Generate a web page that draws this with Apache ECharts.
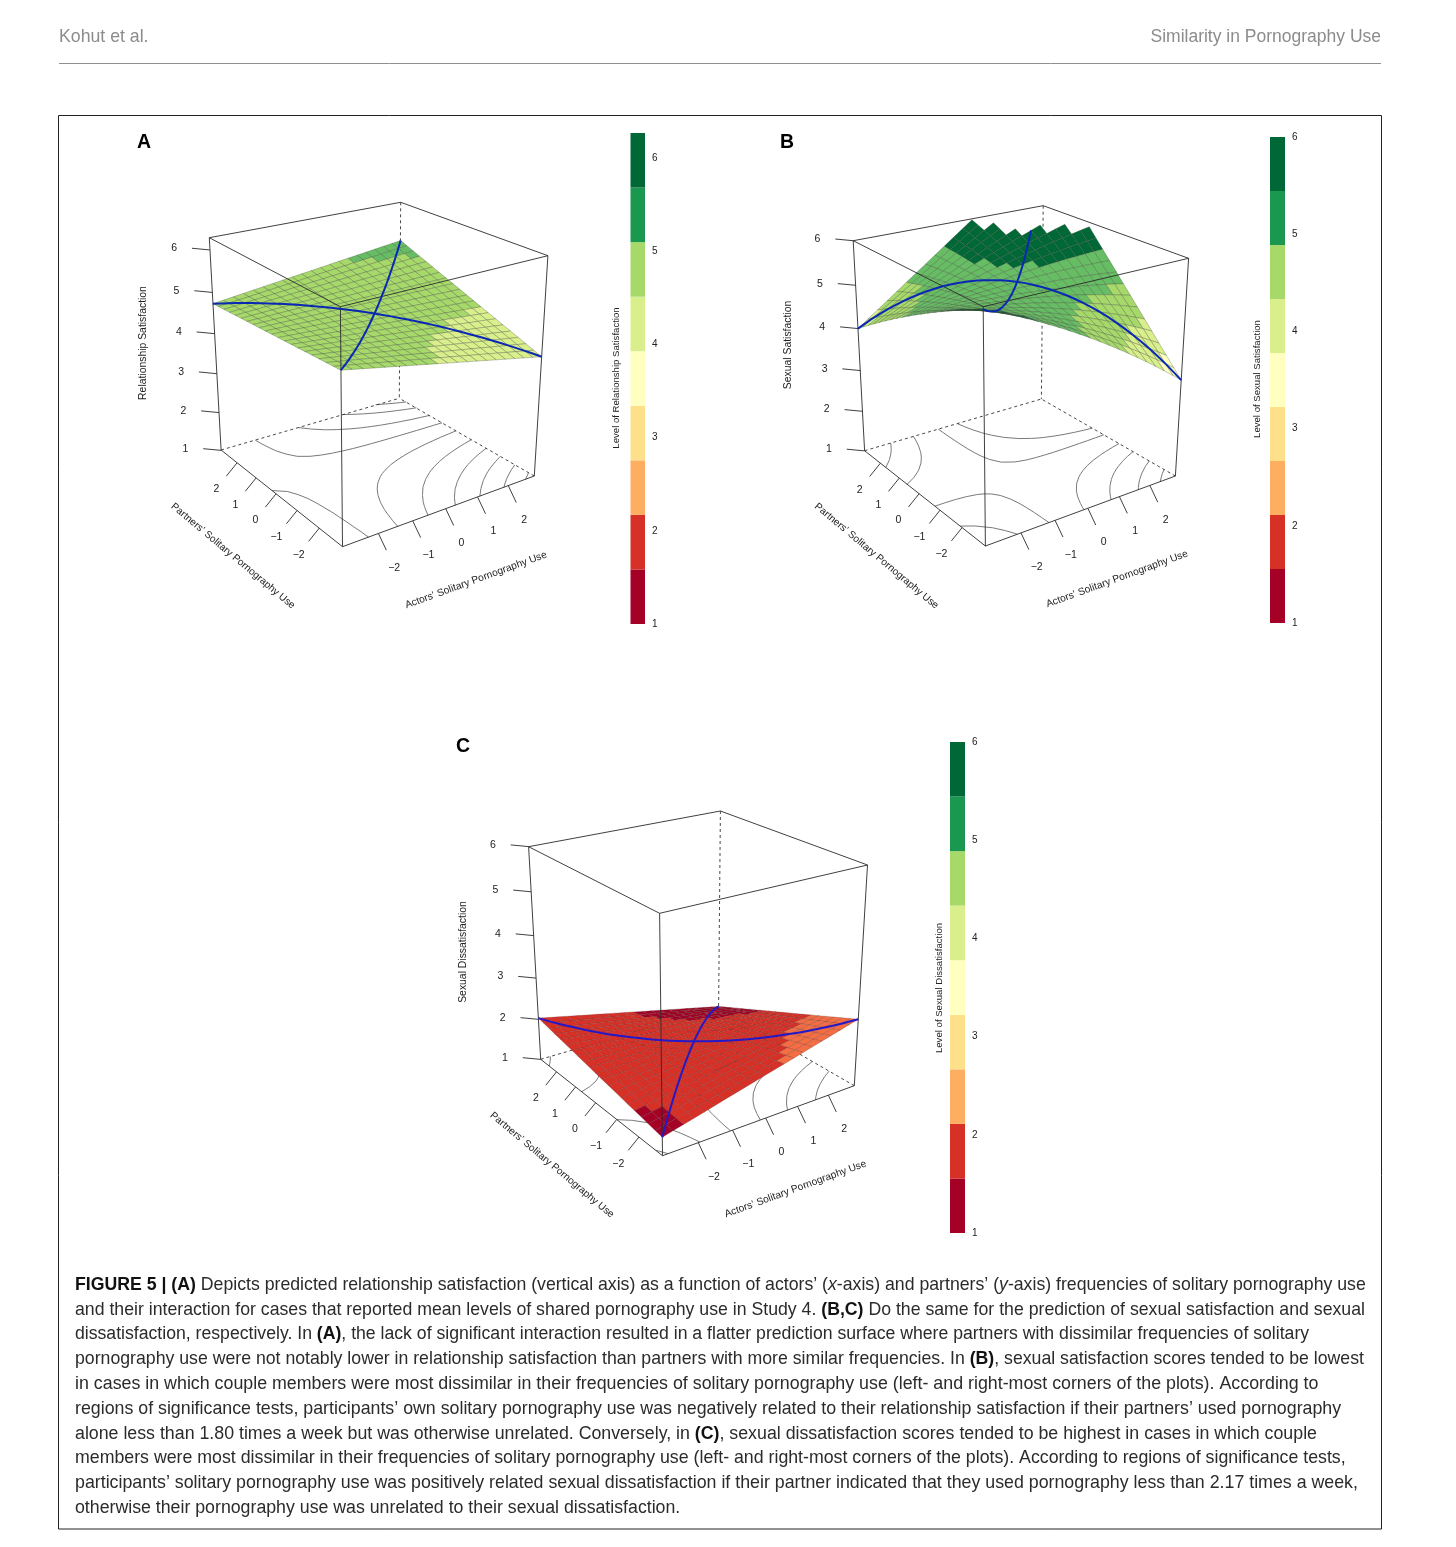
<!DOCTYPE html>
<html><head><meta charset="utf-8">
<style>html,body{margin:0;padding:0;background:#fff}#c{width:1456px;height:1547px}</style>
<script src="https://cdn.jsdelivr.net/npm/echarts@6/dist/echarts.min.js"></script>
</head><body><div id="c"></div>
<script>
// predicted outcome per grid node: rows = partners' use (low to high), columns = actors' use (low to high)
const surfaceA = [
[4.950,4.901,4.852,4.803,4.754,4.705,4.656,4.607,4.558,4.509,4.460,4.411,4.362,4.313,4.264,4.215,4.166,4.117,4.068,4.019,3.970],
[4.939,4.894,4.849,4.804,4.758,4.713,4.668,4.623,4.578,4.533,4.488,4.442,4.397,4.352,4.307,4.262,4.217,4.171,4.126,4.081,4.036],
[4.928,4.887,4.845,4.804,4.763,4.722,4.680,4.639,4.598,4.556,4.515,4.474,4.432,4.391,4.350,4.309,4.267,4.226,4.185,4.143,4.102],
[4.917,4.880,4.842,4.805,4.767,4.730,4.692,4.655,4.617,4.580,4.543,4.505,4.468,4.430,4.393,4.355,4.318,4.280,4.243,4.205,4.168],
[4.906,4.872,4.839,4.805,4.772,4.738,4.704,4.671,4.637,4.604,4.570,4.536,4.503,4.469,4.436,4.402,4.368,4.335,4.301,4.268,4.234],
[4.895,4.865,4.836,4.806,4.776,4.746,4.717,4.687,4.657,4.627,4.598,4.568,4.538,4.508,4.479,4.449,4.419,4.389,4.360,4.330,4.300],
[4.884,4.858,4.832,4.806,4.780,4.755,4.729,4.703,4.677,4.651,4.625,4.599,4.573,4.547,4.521,4.496,4.470,4.444,4.418,4.392,4.366],
[4.873,4.851,4.829,4.807,4.785,4.763,4.741,4.719,4.697,4.675,4.653,4.630,4.608,4.586,4.564,4.542,4.520,4.498,4.476,4.454,4.432],
[4.862,4.844,4.826,4.807,4.789,4.771,4.753,4.735,4.716,4.698,4.680,4.662,4.644,4.625,4.607,4.589,4.571,4.553,4.534,4.516,4.498],
[4.851,4.837,4.822,4.808,4.794,4.779,4.765,4.751,4.736,4.722,4.708,4.693,4.679,4.664,4.650,4.636,4.621,4.607,4.593,4.578,4.564],
[4.840,4.830,4.819,4.809,4.798,4.788,4.777,4.767,4.756,4.746,4.735,4.725,4.714,4.704,4.693,4.683,4.672,4.662,4.651,4.641,4.630],
[4.829,4.822,4.816,4.809,4.802,4.796,4.789,4.782,4.776,4.769,4.763,4.756,4.749,4.743,4.736,4.729,4.723,4.716,4.709,4.703,4.696],
[4.818,4.815,4.812,4.810,4.807,4.804,4.801,4.798,4.796,4.793,4.790,4.787,4.784,4.782,4.779,4.776,4.773,4.770,4.768,4.765,4.762],
[4.807,4.808,4.809,4.810,4.811,4.812,4.813,4.814,4.815,4.816,4.818,4.819,4.820,4.821,4.822,4.823,4.824,4.825,4.826,4.827,4.828],
[4.796,4.801,4.806,4.811,4.816,4.821,4.825,4.830,4.835,4.840,4.845,4.850,4.855,4.860,4.865,4.870,4.874,4.879,4.884,4.889,4.894],
[4.785,4.794,4.803,4.811,4.820,4.829,4.838,4.846,4.855,4.864,4.873,4.881,4.890,4.899,4.908,4.916,4.925,4.934,4.943,4.951,4.960],
[4.774,4.787,4.799,4.812,4.824,4.837,4.850,4.862,4.875,4.887,4.900,4.913,4.925,4.938,4.950,4.963,4.976,4.988,5.001,5.013,5.026],
[4.763,4.779,4.796,4.812,4.829,4.845,4.862,4.878,4.895,4.911,4.928,4.944,4.960,4.977,4.993,5.010,5.026,5.043,5.059,5.076,5.092],
[4.752,4.772,4.793,4.813,4.833,4.854,4.874,4.894,4.914,4.935,4.955,4.975,4.996,5.016,5.036,5.057,5.077,5.097,5.117,5.138,5.158],
[4.741,4.765,4.789,4.813,4.838,4.862,4.886,4.910,4.934,4.958,4.983,5.007,5.031,5.055,5.079,5.103,5.127,5.152,5.176,5.200,5.224],
[4.730,4.758,4.786,4.814,4.842,4.870,4.898,4.926,4.954,4.982,5.010,5.038,5.066,5.094,5.122,5.150,5.178,5.206,5.234,5.262,5.290]
];
const surfaceB = [
[5.950,5.856,5.757,5.655,5.548,5.438,5.323,5.205,5.082,4.956,4.825,4.691,4.552,4.410,4.263,4.113,3.958,3.800,3.637,3.471,3.300],
[5.871,5.789,5.703,5.613,5.519,5.421,5.320,5.214,5.105,4.992,4.876,4.755,4.631,4.503,4.371,4.235,4.096,3.953,3.806,3.655,3.500],
[5.791,5.721,5.647,5.569,5.488,5.403,5.315,5.223,5.127,5.028,4.926,4.819,4.709,4.596,4.479,4.358,4.233,4.105,3.974,3.839,3.700],
[5.709,5.650,5.589,5.524,5.456,5.384,5.309,5.230,5.148,5.063,4.974,4.882,4.787,4.688,4.585,4.480,4.370,4.258,4.142,4.023,3.900],
[5.624,5.578,5.529,5.477,5.422,5.363,5.301,5.236,5.168,5.097,5.022,4.944,4.863,4.779,4.692,4.601,4.507,4.410,4.310,4.207,4.100],
[5.538,5.504,5.468,5.428,5.386,5.341,5.292,5.241,5.187,5.129,5.069,5.005,4.939,4.870,4.797,4.722,4.644,4.562,4.478,4.390,4.300],
[5.449,5.428,5.405,5.378,5.349,5.317,5.282,5.244,5.204,5.161,5.115,5.066,5.014,4.960,4.902,4.842,4.779,4.714,4.645,4.574,4.500],
[5.359,5.350,5.340,5.326,5.310,5.291,5.270,5.246,5.220,5.191,5.159,5.125,5.088,5.049,5.007,4.962,4.915,4.865,4.813,4.758,4.700],
[5.266,5.271,5.273,5.272,5.270,5.265,5.257,5.247,5.235,5.220,5.203,5.184,5.162,5.137,5.111,5.082,5.050,5.016,4.980,4.941,4.900],
[5.171,5.189,5.204,5.217,5.228,5.236,5.242,5.246,5.249,5.248,5.246,5.241,5.234,5.225,5.214,5.200,5.185,5.167,5.147,5.125,5.100],
[5.075,5.105,5.134,5.160,5.184,5.206,5.227,5.245,5.261,5.275,5.288,5.298,5.306,5.312,5.317,5.319,5.319,5.317,5.314,5.308,5.300],
[4.976,5.020,5.061,5.101,5.139,5.175,5.209,5.242,5.272,5.301,5.328,5.354,5.377,5.399,5.419,5.437,5.453,5.467,5.480,5.491,5.500],
[4.876,4.932,4.987,5.040,5.092,5.142,5.190,5.237,5.282,5.326,5.368,5.408,5.447,5.484,5.520,5.554,5.586,5.617,5.646,5.674,5.700],
[4.774,4.843,4.911,4.978,5.044,5.108,5.170,5.231,5.291,5.350,5.407,5.462,5.517,5.569,5.621,5.671,5.720,5.767,5.813,5.857,5.900],
[4.669,4.752,4.834,4.914,4.994,5.072,5.149,5.224,5.299,5.372,5.445,5.516,5.585,5.654,5.721,5.787,5.852,5.916,5.979,null,null],
[4.563,4.659,4.754,4.849,4.942,5.034,5.126,5.216,5.306,5.394,5.481,5.568,5.653,5.737,5.821,5.903,5.985,null,null,null,null],
[4.454,4.564,4.673,4.781,4.889,4.996,5.101,5.206,5.311,5.414,5.517,5.619,5.720,5.820,5.920,null,null,null,null,null,null],
[4.343,4.467,4.590,4.712,4.834,4.955,5.076,5.196,5.315,5.434,5.552,5.670,5.786,5.902,null,null,null,null,null,null,null],
[4.231,4.368,4.505,4.642,4.778,4.913,5.049,5.183,5.318,5.452,5.586,5.719,5.852,5.984,null,null,null,null,null,null,null],
[4.117,4.268,4.419,4.569,4.720,4.870,5.020,5.170,5.320,5.469,5.618,5.768,5.917,null,null,null,null,null,null,null,null],
[4.000,4.165,4.330,4.495,4.660,4.825,4.990,5.155,5.320,5.485,5.650,5.815,5.980,null,null,null,null,null,null,null,null]
];
const surfaceC = [
[1.410,1.469,1.528,1.587,1.646,1.705,1.764,1.823,1.882,1.941,2.000,2.059,2.118,2.177,2.236,2.295,2.354,2.413,2.472,2.531,2.590],
[1.441,1.495,1.548,1.602,1.655,1.709,1.762,1.816,1.869,1.923,1.976,2.030,2.083,2.137,2.190,2.244,2.297,2.351,2.404,2.458,2.512],
[1.472,1.520,1.568,1.616,1.664,1.712,1.760,1.808,1.856,1.904,1.953,2.001,2.049,2.097,2.145,2.193,2.241,2.289,2.337,2.385,2.433],
[1.503,1.546,1.588,1.631,1.673,1.716,1.758,1.801,1.844,1.886,1.929,1.971,2.014,2.056,2.099,2.142,2.184,2.227,2.269,2.312,2.355],
[1.534,1.571,1.608,1.645,1.682,1.720,1.757,1.794,1.831,1.868,1.905,1.942,1.979,2.016,2.053,2.091,2.128,2.165,2.202,2.239,2.276],
[1.565,1.597,1.628,1.660,1.692,1.723,1.755,1.786,1.818,1.850,1.881,1.913,1.945,1.976,2.008,2.039,2.071,2.103,2.134,2.166,2.198],
[1.596,1.622,1.648,1.674,1.701,1.727,1.753,1.779,1.805,1.831,1.858,1.884,1.910,1.936,1.962,1.988,2.014,2.041,2.067,2.093,2.119],
[1.627,1.648,1.668,1.689,1.710,1.730,1.751,1.772,1.792,1.813,1.834,1.854,1.875,1.896,1.916,1.937,1.958,1.978,1.999,2.020,2.041],
[1.658,1.673,1.688,1.704,1.719,1.734,1.749,1.764,1.780,1.795,1.810,1.825,1.840,1.856,1.871,1.886,1.901,1.916,1.932,1.947,1.962],
[1.689,1.699,1.708,1.718,1.728,1.738,1.747,1.757,1.767,1.777,1.786,1.796,1.806,1.815,1.825,1.835,1.845,1.854,1.864,1.874,1.884],
[1.720,1.724,1.729,1.733,1.737,1.741,1.746,1.750,1.754,1.758,1.763,1.767,1.771,1.775,1.780,1.784,1.788,1.792,1.797,1.801,1.805],
[1.751,1.750,1.749,1.747,1.746,1.745,1.744,1.742,1.741,1.740,1.739,1.738,1.736,1.735,1.734,1.733,1.731,1.730,1.729,1.728,1.727],
[1.782,1.775,1.769,1.762,1.755,1.749,1.742,1.735,1.728,1.722,1.715,1.708,1.702,1.695,1.688,1.682,1.675,1.668,1.661,1.655,1.648],
[1.813,1.801,1.789,1.776,1.764,1.752,1.740,1.728,1.716,1.703,1.691,1.679,1.667,1.655,1.643,1.630,1.618,1.606,1.594,1.582,1.570],
[1.844,1.826,1.809,1.791,1.773,1.756,1.738,1.720,1.703,1.685,1.668,1.650,1.632,1.615,1.597,1.579,1.562,1.544,1.526,1.509,1.491],
[1.875,1.852,1.829,1.806,1.783,1.759,1.736,1.713,1.690,1.667,1.644,1.621,1.598,1.574,1.551,1.528,1.505,1.482,1.459,1.436,1.413],
[1.906,1.877,1.849,1.820,1.792,1.763,1.734,1.706,1.677,1.649,1.620,1.591,1.563,1.534,1.506,1.477,1.448,1.420,1.391,1.363,1.334],
[1.937,1.903,1.869,1.835,1.801,1.767,1.733,1.698,1.664,1.630,1.596,1.562,1.528,1.494,1.460,1.426,1.392,1.358,1.324,1.290,1.256],
[1.968,1.928,1.889,1.849,1.810,1.770,1.731,1.691,1.652,1.612,1.573,1.533,1.493,1.454,1.414,1.375,1.335,1.296,1.256,1.217,1.177],
[1.999,1.954,1.909,1.864,1.819,1.774,1.729,1.684,1.639,1.594,1.549,1.504,1.459,1.414,1.369,1.324,1.279,1.234,1.189,1.144,1.099],
[2.030,1.980,1.929,1.879,1.828,1.778,1.727,1.677,1.626,1.576,1.525,1.475,1.424,1.374,1.323,1.273,1.222,1.172,1.121,1.071,1.020]
];
const contourLevelsA = [4.02,4.14,4.27,4.40,4.54,4.69,4.83,4.96,5.10,5.21];
const contourLevelsB = [3.6,4.0,4.45,4.85,5.3,5.65];
const contourLevelsC = [1.26,1.44,1.62,1.80,1.98,2.15,2.33];
const tickValues = [-2,-1,0,1,2];
const zTicks = [1,2,3,4,5,6];
const useRange = [-3,2.87];
const zRangeA = [1,6.27], zRangeB = [1,6], zRangeC = [1,6];
const legendColors = ['#A50026','#D73027','#FDAE61','#FEE08B','#FFFFBF','#D9EF8B','#A6D96A','#1A9850','#006837'];
const surfaceColors = ['#A50026','#D73027','#F46D43','#FEE08B','#FFFFBF','#D9EF8B','#A6D96A','#66BD63','#006837'];
const xTitle = 'Actors\u2019 Solitary Pornography Use', yTitle = 'Partners\u2019 Solitary Pornography Use';
const captionLines = [
'{b|FIGURE 5 | (A)} Depicts predicted relationship satisfaction (vertical axis) as a function of actors\u2019 ({i|x}-axis) and partners\u2019 ({i|y}-axis) frequencies of solitary pornography use',
'and their interaction for cases that reported mean levels of shared pornography use in Study 4. {b|(B,C)} Do the same for the prediction of sexual satisfaction and sexual',
'dissatisfaction, respectively. In {b|(A)}, the lack of significant interaction resulted in a flatter prediction surface where partners with dissimilar frequencies of solitary',
'pornography use were not notably lower in relationship satisfaction than partners with more similar frequencies. In {b|(B)}, sexual satisfaction scores tended to be lowest',
'in cases in which couple members were most dissimilar in their frequencies of solitary pornography use (left- and right-most corners of the plots). According to',
'regions of significance tests, participants\u2019 own solitary pornography use was negatively related to their relationship satisfaction if their partners\u2019 used pornography',
'alone less than 1.80 times a week but was otherwise unrelated. Conversely, in {b|(C)}, sexual dissatisfaction scores tended to be highest in cases in which couple',
'members were most dissimilar in their frequencies of solitary pornography use (left- and right-most corners of the plots). According to regions of significance tests,',
'participants\u2019 solitary pornography use was positively related sexual dissatisfaction if their partner indicated that they used pornography less than 2.17 times a week,',
'otherwise their pornography use was unrelated to their sexual dissatisfaction.'
];
const captionY = [1285,1310,1334.5,1359,1384,1409,1434,1458.5,1483,1508];
const captionSize = [17.69,17.69,17.65,17.70,17.82,17.79,17.78,17.76,17.79,17.74];

// layout of each panel (page positions of the box corners, titles and colour bar)
const panels = [
 {letter:'A',letterAt:[144,143],table:surfaceA,levels:contourLevelsA,zr:zRangeA,blue:'#0a28b4',mesh:'rgba(60,70,55,0.5)',zName:'Relationship Satisfaction',barName:'Level of Relationship Satisfaction',
  top:{f:[340.4,306.7],r:[547.9,255.7],l:[209.3,237.7],b:[400.7,202.3]},bot:{f:[342.5,546.7],r:[534.3,476],l:[221.1,450],b:[399.3,398.3]},
  zT:[143,343],yT:[233,556],xT:[476,580],bar:{l:630.5,w:14.5,t:133,b:624},barT:[616,378]},
 {letter:'B',letterAt:[787,143],table:surfaceB,levels:contourLevelsB,zr:zRangeB,blue:'#0a28b4',mesh:'rgba(60,70,55,0.5)',zName:'Sexual Satisfaction',barName:'Level of Sexual Satisfaction',
  top:{f:[983.2,306.7],r:[1188.6,258.3],l:[853.2,240.7],b:[1043.2,205.7]},bot:{f:[985.4,546],r:[1175.4,476],l:[864.6,450.7],b:[1041.4,399]},
  zT:[788,345],yT:[876.5,556],xT:[1117,579],bar:{l:1270,w:15,t:137,b:623},barT:[1257,379]},
 {letter:'C',letterAt:[463,747],table:surfaceC,levels:contourLevelsC,zr:zRangeC,blue:'#2418c8',mesh:'rgba(80,40,35,0.38)',zName:'Sexual Dissatisfaction',barName:'Level of Sexual Dissatisfaction',
  top:{f:[659.6,913.3],r:[867.5,865],l:[528.6,846.7],b:[720.4,811]},bot:{f:[662.5,1155.7],r:[854.3,1085.7],l:[540.7,1059.3],b:[718.6,1007.3]},
  zT:[463,952],yT:[552,1165],xT:[795.5,1189],bar:{l:950,w:15,t:742,b:1233},barT:[939,988]}
];
const FONT = '"Liberation Sans",Arial,sans-serif';

// fit a perspective camera to the eight box corners (unit cube -> page)
function fitCamera(p){
  const pts=[[0,0,0,p.bot.f],[1,0,0,p.bot.r],[0,1,0,p.bot.l],[1,1,0,p.bot.b],[0,0,1,p.top.f],[1,0,1,p.top.r],[0,1,1,p.top.l],[1,1,1,p.top.b]];
  const rows=[],rhs=[];
  pts.forEach(([a,b,c,s])=>{
    rows.push([a,b,c,1,0,0,0,0,-s[0]*a,-s[0]*b,-s[0]*c]);rhs.push(s[0]);
    rows.push([0,0,0,0,a,b,c,1,-s[1]*a,-s[1]*b,-s[1]*c]);rhs.push(s[1]);
  });
  const n=11,M=[];
  for(let i=0;i<n;i++){M.push([]);for(let j=0;j<=n;j++){let v=0;rows.forEach((r,k)=>{v+=r[i]*(j<n?r[j]:rhs[k]);});M[i].push(v);}}
  for(let i=0;i<n;i++){
    let m=i;for(let k=i+1;k<n;k++)if(Math.abs(M[k][i])>Math.abs(M[m][i]))m=k;
    [M[i],M[m]]=[M[m],M[i]];
    for(let k=0;k<n;k++){if(k===i)continue;const f=M[k][i]/M[i][i];for(let j=i;j<=n;j++)M[k][j]-=f*M[i][j];}
  }
  return M.map((r,i)=>r[n]/r[i]);
}
const grids=[],xAxes=[],yAxes=[],series=[],graphics=[];
grids.push({left:0,right:0,top:0,bottom:0});
xAxes.push({type:'value',min:0,max:1456,show:false,gridIndex:0});
yAxes.push({type:'value',min:0,max:1547,inverse:true,show:false,gridIndex:0});

function segSeries(name,z,segs,stroke,lw,dash){
  series.push({type:'custom',name,z,silent:true,animation:false,clip:false,xAxisIndex:0,yAxisIndex:0,data:segs,
    renderItem:(ps,api)=>{const a=api.coord([api.value(0),api.value(1)]),b=api.coord([api.value(2),api.value(3)]);
      return {type:'line',shape:{x1:a[0],y1:a[1],x2:b[0],y2:b[1]},style:{stroke,lineWidth:lw,lineDash:dash||null,fill:null}};}});
}
panels.forEach((p)=>{
  const C=fitCamera(p),[u0,u1]=useRange,[z0,z1]=p.zr,N=p.table.length;
  const proj=(x,y,z)=>{const a=(x-u0)/(u1-u0),b=(y-u0)/(u1-u0),c=(z-z0)/(z1-z0),w=C[8]*a+C[9]*b+C[10]*c+1;
    return [(C[0]*a+C[1]*b+C[2]*c+C[3])/w,(C[4]*a+C[5]*b+C[6]*c+C[7])/w];};
  const gx=i=>u0+(u1-u0)*i/(N-1);
  const T=p.table;

  // floor contours
  const contour=[];
  p.levels.forEach(L=>{
    for(let j=0;j<N-1;j++)for(let i=0;i<N-1;i++){
      const q=[[i,j],[i+1,j],[i+1,j+1],[i,j+1]],hits=[];
      if(q.some(c=>T[c[1]][c[0]]===null))continue;
      for(let k=0;k<4;k++){const A=q[k],B=q[(k+1)%4],za=T[A[1]][A[0]],zb=T[B[1]][B[0]];
        if((za<L)!==(zb<L)){const f=(L-za)/(zb-za);hits.push([gx(A[0]+(B[0]-A[0])*f),gx(A[1]+(B[1]-A[1])*f)]);}}
      for(let k=0;k+1<hits.length;k+=2){const a=proj(hits[k][0],hits[k][1],z0),b=proj(hits[k+1][0],hits[k+1][1],z0);contour.push([a[0],a[1],b[0],b[1]]);}
    }
  });
  segSeries(p.letter+' contours',2,contour,'#6a6a6a',0.9);

  // hidden box edges (dashed)
  const e=(a,b)=>[a[0],a[1],b[0],b[1]];
  segSeries(p.letter+' back edges',2,[e(p.top.b,p.bot.b),e(p.bot.l,p.bot.b),e(p.bot.r,p.bot.b)],'#333',0.9,[3,3]);

  // surface facets, far to near
  const cells=[];
  for(let j=N-2;j>=0;j--)for(let i=N-2;i>=0;i--){
    if([T[j][i],T[j][i+1],T[j+1][i+1],T[j+1][i]].every(v=>v!==null))cells.push([i,j]);
  }
  series.push({type:'custom',name:p.letter+' surface',z:3,silent:true,animation:false,clip:false,xAxisIndex:0,yAxisIndex:0,data:cells,
    renderItem:(ps,api)=>{const i=api.value(0),j=api.value(1);
      const corners=[[i,j],[i+1,j],[i+1,j+1],[i,j+1]];
      const m=corners.reduce((s,c)=>s+T[c[1]][c[0]],0)/4;
      const band=Math.max(0,Math.min(8,Math.floor((m-z0)/(z1-z0)*9)));
      const points=corners.map(c=>api.coord(proj(gx(c[0]),gx(c[1]),T[c[1]][c[0]])));
      return {type:'polygon',shape:{points},style:{fill:surfaceColors[band],stroke:p.mesh,lineWidth:0.6}};}});

  // visible box edges and ticks
  const solid=[e(p.top.l,p.top.b),e(p.top.b,p.top.r),e(p.top.r,p.top.f),e(p.top.f,p.top.l),
    e(p.top.l,p.bot.l),e(p.top.r,p.bot.r),e(p.top.f,p.bot.f),e(p.bot.f,p.bot.r),e(p.bot.f,p.bot.l)];
  const labels=[];
  tickValues.forEach(v=>{
    const b=proj(v,u0,z0);solid.push([b[0],b[1],b[0]+7.9,b[1]+16.7]);labels.push([b[0]+15.7,b[1]+34.3,String(v).replace('-','\u2212')]);
    const c=proj(u0,v,z0);solid.push([c[0],c[1],c[0]-10.7,c[1]+13.3]);labels.push([c[0]-20.7,c[1]+26.7,String(v).replace('-','\u2212')]);
  });
  zTicks.forEach(v=>{
    const b=proj(u0,u1,v);solid.push([b[0],b[1],b[0]-17.9,b[1]-1.7]);labels.push([b[0]-35.7,b[1]-1.7,String(v)]);
  });
  segSeries(p.letter+' box',4,solid,'#2a2a2a',0.9);
  series.push({type:'custom',name:p.letter+' tick labels',z:4,silent:true,animation:false,clip:false,xAxisIndex:0,yAxisIndex:0,data:labels.map(l=>[l[0],l[1]]),
    renderItem:(ps,api)=>{const l=labels[ps.dataIndex],q=api.coord([l[0],l[1]]);
      return {type:'text',x:q[0],y:q[1],style:{text:l[2],fill:'#222',font:'10.5px '+FONT,align:'center',verticalAlign:'middle'}};}});

  // congruence and incongruence lines along the table's diagonals
  const diag=[],anti=[];
  for(let k=0;k<N;k++){
    if(T[k][k]!==null)diag.push(proj(gx(k),gx(k),T[k][k]));
    const i=N-1-k;if(T[k][i]!==null)anti.push(proj(gx(i),gx(k),T[k][i]));
  }
  [diag,anti].forEach((d,n)=>series.push({type:'line',name:p.letter+(n?' incongruence':' congruence'),z:5,silent:true,animation:false,clip:false,xAxisIndex:0,yAxisIndex:0,
    data:d,smooth:0.25,showSymbol:false,lineStyle:{color:p.blue,width:2}}));

  // colour bar with its own axis
  const g=grids.length;
  grids.push({left:p.bar.l,width:p.bar.w,top:p.bar.t,height:p.bar.b-p.bar.t});
  xAxes.push({type:'value',min:0,max:1,show:false,gridIndex:g});
  yAxes.push({type:'value',min:z0,max:z1,interval:1,position:'right',gridIndex:g,splitLine:{show:false},axisLine:{show:false},axisTick:{show:false},
    axisLabel:{margin:7,fontSize:10,color:'#222',fontFamily:FONT,formatter:v=>Number.isInteger(v)?String(v):''}});
  series.push({type:'custom',name:p.letter+' colour bar',silent:true,animation:false,xAxisIndex:g,yAxisIndex:g,
    data:legendColors.map((c,k)=>[k,k+1]),
    renderItem:(ps,api)=>{const k=api.value(0),st=(z1-z0)/9,a=api.coord([0,z0+k*st]),b=api.coord([1,z0+(k+1)*st]);
      return {type:'rect',shape:{x:a[0],y:b[1],width:b[0]-a[0],height:a[1]-b[1]},style:{fill:legendColors[k]}};}});

  // titles
  const txt=(t,at,rot,font,extra)=>graphics.push({type:'text',x:at[0],y:at[1],rotation:rot,silent:true,
    style:Object.assign({text:t,font,fill:'#222',align:'center',verticalAlign:'middle'},extra||{})});
  const f=n=>n+'px '+FONT;
  txt(p.zName,p.zT,Math.PI/2,f(10.4));
  txt(yTitle,p.yT,-40*Math.PI/180,f(10.1));
  txt(xTitle,p.xT,20*Math.PI/180,f(10.2));
  txt(p.barName,p.barT,Math.PI/2,f(9.6));
  txt(p.letter,p.letterAt,0,'bold 19.5px '+FONT,{fill:'#000'});
});

// page furniture
graphics.push({type:'text',x:59,y:37,silent:true,style:{text:'Kohut et al.',font:'17.7px '+FONT,fill:'#8c8c8c',verticalAlign:'middle'}});
graphics.push({type:'text',x:1381,y:37,silent:true,style:{text:'Similarity in Pornography Use',font:'17.5px '+FONT,fill:'#8c8c8c',align:'right',verticalAlign:'middle'}});
graphics.push({type:'line',silent:true,shape:{x1:59,y1:63.5,x2:1381,y2:63.5},style:{stroke:'#8f8f8f',lineWidth:1}});
graphics.push({type:'rect',silent:true,shape:{x:58.5,y:115.5,width:1323,height:1413.5},style:{fill:null,stroke:'#222',lineWidth:1}});
captionLines.forEach((t,i)=>{const s=captionSize[i];graphics.push({type:'text',x:75,y:captionY[i],silent:true,style:{text:t,font:s+'px '+FONT,fill:'#2b2b2b',verticalAlign:'middle',
  rich:{b:{font:'bold '+s+'px '+FONT,fill:'#111',verticalAlign:'middle'},i:{font:'italic '+s+'px '+FONT,fill:'#2b2b2b',verticalAlign:'middle'}}}});});

const chart=echarts.init(document.getElementById('c'),null,{renderer:'canvas',width:1456,height:1547});
chart.setOption({backgroundColor:'#fff',animation:false,tooltip:{show:false},grid:grids,xAxis:xAxes,yAxis:yAxes,series,graphic:graphics});
</script></body></html>
